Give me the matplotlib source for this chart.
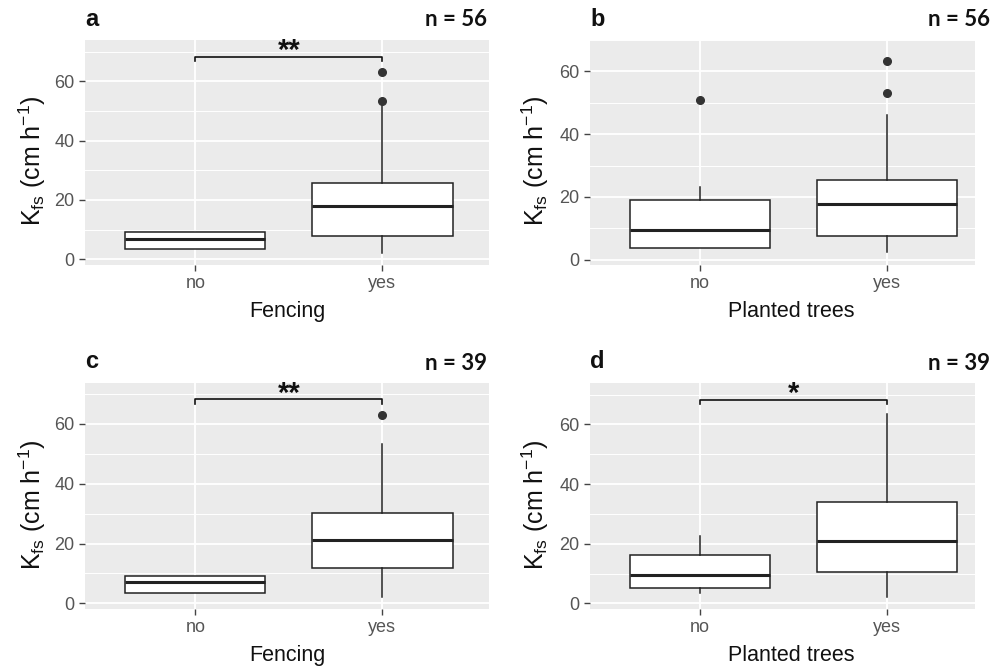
import matplotlib
matplotlib.use("Agg")
import matplotlib.pyplot as plt

plt.rcParams["font.family"] = ["Liberation Sans", "DejaVu Sans"]
plt.rcParams["mathtext.fontset"] = "custom"
plt.rcParams["mathtext.rm"] = "Liberation Sans"
plt.rcParams["mathtext.it"] = "Liberation Sans"

# categories and annotations
groups = ["no", "yes"]
letters = ["a", "b", "c", "d"]
n_obs = [56, 56, 39, 39]
xtitles = ["Fencing", "Planted trees", "Fencing", "Planted trees"]
stars = ["**", "", "**", "*"]

# box statistics per panel, [no, yes]
whislo = [[3.5, 2.1], [3.7, 2.3], [3.6, 2.2], [3.6, 2.2]]
q1 = [[3.5, 7.8], [3.7, 7.4], [3.6, 11.9], [5.0, 10.4]]
med = [[6.8, 18.0], [9.5, 17.6], [7.0, 21.1], [9.5, 21.0]]
q3 = [[9.1, 25.6], [19.1, 25.5], [9.3, 30.2], [16.2, 33.9]]
whishi = [[9.1, 51.5], [23.0, 46.1], [9.3, 53.3], [22.7, 63.6]]
fliers = [[[], [53.2, 63.2]], [[51.0], [53.0, 63.3]], [[], [62.9]], [[], []]]

bracket_y = 68.3
bracket_tip = 66.8

W, H = 995, 670
fig = plt.figure(figsize=(W / 100, H / 100), dpi=100)

# panel boxes in pixels: left, top, right, bottom
boxes = [(85, 40, 489, 265), (590, 40, 975, 265),
         (85, 383, 489, 609), (590, 383, 975, 609)]
ylims = [(-1.9, 73.9), (-1.7, 66.9), (-1.9, 73.7), (-1.9, 73.9)]
xlims = [(0.41, 2.57), (0.41, 2.47), (0.41, 2.57), (0.41, 2.47)]

for i in range(4):
    l, t, r, b = boxes[i]
    ax = fig.add_axes([l / W, 1 - b / H, (r - l) / W, (b - t) / H])
    ax.set_facecolor("#EBEBEB")
    for s in ax.spines.values():
        s.set_visible(False)

    stats = []
    for j in range(2):
        stats.append(dict(whislo=whislo[i][j], q1=q1[i][j], med=med[i][j],
                          q3=q3[i][j], whishi=whishi[i][j],
                          fliers=fliers[i][j], label=groups[j]))
    ax.bxp(stats, positions=[1, 2], widths=0.75, patch_artist=True,
           showcaps=False,
           boxprops=dict(facecolor="white", edgecolor="#222222", linewidth=1.1),
           medianprops=dict(color="#222222", linewidth=2.2),
           whiskerprops=dict(color="#222222", linewidth=1.1),
           flierprops=dict(marker="o", markerfacecolor="#333333",
                           markeredgecolor="#333333", markersize=5.5),
           zorder=3)

    ax.set_xlim(*xlims[i])
    ax.set_ylim(*ylims[i])
    ax.set_yticks([0, 20, 40, 60])
    ax.set_yticks([10, 30, 50, 70], minor=True)
    ax.set_xticks([1, 2])
    ax.set_xticklabels(groups)
    ax.grid(which="major", color="white", linewidth=1.3, zorder=0)
    ax.grid(which="minor", axis="y", color="white", linewidth=0.7, zorder=0)
    ax.set_axisbelow(True)
    ax.tick_params(which="major", length=4.5, width=1, color="#444444",
                   labelsize=13, labelcolor="#555555", pad=3)
    ax.tick_params(which="minor", length=0)

    if stars[i]:
        ax.plot([1, 1, 2, 2], [bracket_tip, bracket_y, bracket_y, bracket_tip],
                color="#111111", linewidth=1.2, zorder=4)
        ax.text(1.5, 67.4, stars[i], ha="center", va="baseline",
                fontsize=21, fontweight="bold", color="#111111")

    ax.set_xlabel(xtitles[i], fontsize=15.5, color="#111111")
    ax.xaxis.label.set_verticalalignment("center")
    ax.xaxis.set_label_coords((287 - l) / (r - l) if i % 2 == 0 else 0.524,
                              -46.5 / (b - t))
    ax.set_ylabel(r"K$_{\mathregular{fs}}$ (cm h$^{\mathregular{-1}}$)",
                  fontsize=18, color="#111111")
    ax.yaxis.label.set_verticalalignment("center")
    ylab_x = 32 if i % 2 == 0 else 535
    ax.yaxis.set_label_coords((ylab_x - l) / (r - l), 0.462)

    fig.text(l / W, 1 - (t - 21) / H, letters[i], ha="left", va="center",
             fontsize=17, fontweight="bold", color="#111111")
    nx = 487 if i % 2 == 0 else 990
    fig.text(nx / W, 1 - (t - 20) / H, "n = %d" % n_obs[i], ha="right",
             va="center", fontsize=16, fontweight="bold", color="#111111",
             family=["Lato", "DejaVu Sans"])

fig.savefig("out.png", dpi=100)
